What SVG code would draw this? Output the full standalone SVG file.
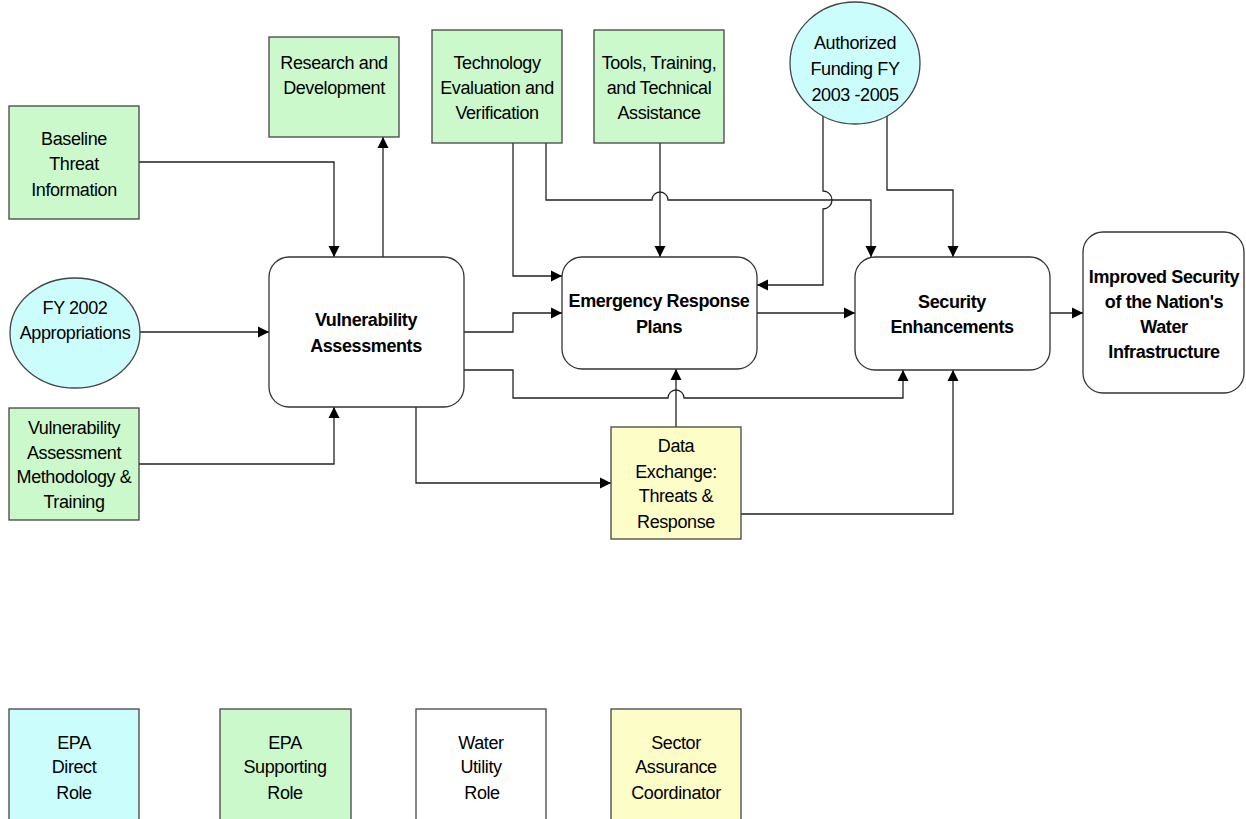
<svg xmlns="http://www.w3.org/2000/svg" width="1246" height="819" viewBox="0 0 1246 819">
<defs>
<marker id="arr" markerUnits="userSpaceOnUse" markerWidth="12" markerHeight="12" refX="11" refY="6" orient="auto">
<path d="M0,0.5 L11,6 L0,11.5 z" fill="#000"/>
</marker>
<style>
.t{font-family:"Liberation Sans",Arial,sans-serif;font-size:18px;fill:#000;text-anchor:middle;letter-spacing:-0.4px}
.b{font-weight:bold}
.grn{fill:#ccf9cc;stroke:#444;stroke-width:1.3}
.cyn{fill:#ccfdfd;stroke:#444;stroke-width:1.3}
.yel{fill:#fdfdc8;stroke:#444;stroke-width:1.3}
.wht{fill:#fff;stroke:#444;stroke-width:1.3}
.rnd{fill:#fff;stroke:#333;stroke-width:1.3}
.c{fill:none;stroke:#222;stroke-width:1.3;marker-end:url(#arr)}
</style>
</defs>
<rect width="1246" height="819" fill="#fff"/>

<g id="connectors">
<path class="c" d="M139,162 H334 V257"/>
<path class="c" d="M383,257 V137"/>
<path class="c" d="M140,332 H269"/>
<path class="c" d="M139,464 H334 V407"/>
<path class="c" d="M464,332 H513 V313 H562"/>
<path class="c" d="M464,370 H513 V398 H668 A8,8 0 0 1 684,398 H903 V370"/>
<path class="c" d="M416,407 V483 H611"/>
<path class="c" d="M676,427 V369"/>
<path class="c" d="M741,514 H953 V370"/>
<path class="c" d="M513,143 V276 H562"/>
<path class="c" d="M546,143 V200 H652 A8,8 0 0 1 668,200 H871 V257"/>
<path class="c" d="M660,143 V257"/>
<path class="c" d="M823,116 V191 A9,9 0 0 1 823,209 V285 H757"/>
<path class="c" d="M887,116 V190 H953 V257"/>
<path class="c" d="M757,313 H855"/>
<path class="c" d="M1050,313 H1083"/>
</g>

<g id="research">
<rect class="grn" x="269" y="37" width="130" height="100"/>
<text class="t" x="334" y="69">Research and</text>
<text class="t" x="334" y="94">Development</text>
</g>
<g id="baseline">
<rect class="grn" x="9" y="106" width="130" height="113"/>
<text class="t" x="74" y="145">Baseline</text>
<text class="t" x="74" y="170">Threat</text>
<text class="t" x="74" y="196">Information</text>
</g>
<g id="fy2002">
<ellipse class="cyn" cx="75" cy="333" rx="65" ry="55"/>
<text class="t" x="75" y="314">FY 2002</text>
<text class="t" x="75" y="339">Appropriations</text>
</g>
<g id="vam">
<rect class="grn" x="9" y="408" width="130" height="112"/>
<text class="t" x="74" y="434">Vulnerability</text>
<text class="t" x="74" y="459">Assessment</text>
<text class="t" x="74" y="483">Methodology &amp;</text>
<text class="t" x="74" y="508">Training</text>
</g>
<g id="techeval">
<rect class="grn" x="432" y="30" width="130" height="113"/>
<text class="t" x="497" y="69">Technology</text>
<text class="t" x="497" y="94">Evaluation and</text>
<text class="t" x="497" y="119">Verification</text>
</g>
<g id="tools">
<rect class="grn" x="594" y="30" width="130" height="113"/>
<text class="t" x="659" y="69">Tools, Training,</text>
<text class="t" x="659" y="94">and Technical</text>
<text class="t" x="659" y="119">Assistance</text>
</g>
<g id="authorized">
<ellipse class="cyn" cx="855" cy="63" rx="65" ry="61"/>
<text class="t" x="855" y="49">Authorized</text>
<text class="t" x="855" y="75">Funding FY</text>
<text class="t" x="855" y="101">2003 -2005</text>
</g>
<g id="vuln">
<rect class="rnd" x="269" y="257" width="195" height="150" rx="20"/>
<text class="t b" x="366" y="326">Vulnerability</text>
<text class="t b" x="366" y="352">Assessments</text>
</g>
<g id="erp">
<rect class="rnd" x="562" y="257" width="195" height="112" rx="20"/>
<text class="t b" x="659" y="307">Emergency Response</text>
<text class="t b" x="659" y="333">Plans</text>
</g>
<g id="security">
<rect class="rnd" x="855" y="257" width="195" height="113" rx="20"/>
<text class="t b" x="952" y="308">Security</text>
<text class="t b" x="952" y="333">Enhancements</text>
</g>
<g id="improved">
<rect class="rnd" x="1083" y="232" width="161" height="161" rx="20"/>
<text class="t b" x="1164" y="283">Improved Security</text>
<text class="t b" x="1164" y="308">of the Nation's</text>
<text class="t b" x="1164" y="333">Water</text>
<text class="t b" x="1164" y="358">Infrastructure</text>
</g>
<g id="dataexchange">
<rect class="yel" x="611" y="427" width="130" height="112"/>
<text class="t" x="676" y="452">Data</text>
<text class="t" x="676" y="478">Exchange:</text>
<text class="t" x="676" y="502">Threats &amp;</text>
<text class="t" x="676" y="528">Response</text>
</g>

<g id="legend-direct">
<rect class="cyn" x="9" y="709" width="130" height="120"/>
<text class="t" x="74" y="749">EPA</text>
<text class="t" x="74" y="773">Direct</text>
<text class="t" x="74" y="799">Role</text>
</g>
<g id="legend-supporting">
<rect class="grn" x="220" y="709" width="131" height="120"/>
<text class="t" x="285" y="749">EPA</text>
<text class="t" x="285" y="773">Supporting</text>
<text class="t" x="285" y="799">Role</text>
</g>
<g id="legend-utility">
<rect class="wht" x="416" y="709" width="130" height="120"/>
<text class="t" x="481" y="749">Water</text>
<text class="t" x="481" y="773">Utility</text>
<text class="t" x="482" y="799">Role</text>
</g>
<g id="legend-sector">
<rect class="yel" x="611" y="709" width="130" height="120"/>
<text class="t" x="676" y="749">Sector</text>
<text class="t" x="676" y="773">Assurance</text>
<text class="t" x="676" y="799">Coordinator</text>
</g>
</svg>
